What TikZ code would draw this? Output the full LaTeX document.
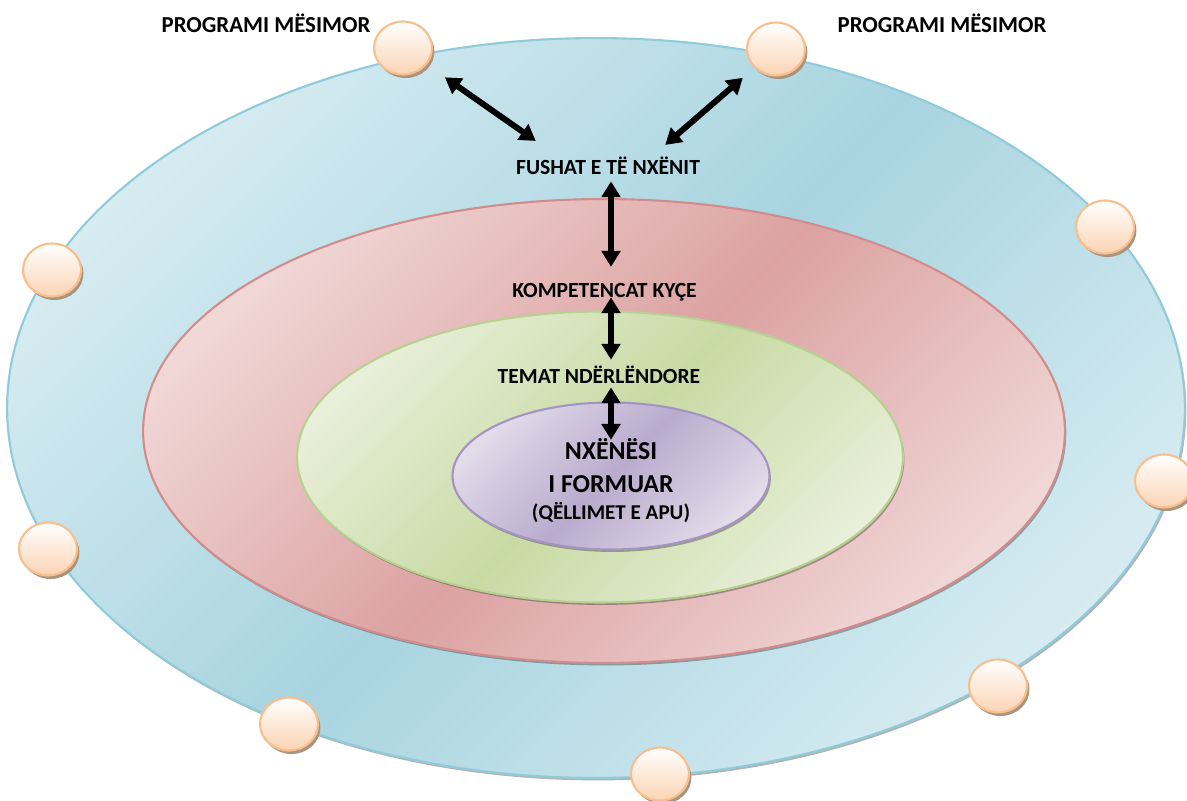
\documentclass[tikz,border=0pt]{standalone}
\usepackage{fontspec}
\setmainfont{Carlito}
\usepackage{xcolor}
\usetikzlibrary{shapes.geometric, arrows.meta, positioning, calc, shadows}

\definecolor{blueLight}{HTML}{DBEEF3}
\definecolor{blueDark}{HTML}{A8D4E0}
\definecolor{blueLine}{HTML}{8FCBDA}
\definecolor{redLight}{HTML}{F2DCDB}
\definecolor{redDark}{HTML}{DCA2A2}
\definecolor{redLine}{HTML}{D18C8C}
\definecolor{greenLight}{HTML}{EBF1DE}
\definecolor{greenDark}{HTML}{C8DAA4}
\definecolor{greenLine}{HTML}{B6D190}
\definecolor{purpleLight}{HTML}{E6E0EC}
\definecolor{purpleDark}{HTML}{BAABCD}
\definecolor{purpleLine}{HTML}{A594C3}
\definecolor{beadFill}{HTML}{FBD4B4}
\definecolor{beadLine}{HTML}{F9BE8C}
\definecolor{beadShadow}{HTML}{A8957F}

\pgfdeclarehorizontalshading{bluering}{100bp}{color(0bp)=(blueLight); color(22bp)=(blueLight); color(50bp)=(blueDark); color(78bp)=(blueLight); color(100bp)=(blueLight)}
\pgfdeclarehorizontalshading{redring}{100bp}{color(0bp)=(redLight); color(22bp)=(redLight); color(50bp)=(redDark); color(78bp)=(redLight); color(100bp)=(redLight)}
\pgfdeclarehorizontalshading{greenring}{100bp}{color(0bp)=(greenLight); color(22bp)=(greenLight); color(50bp)=(greenDark); color(78bp)=(greenLight); color(100bp)=(greenLight)}
\pgfdeclarehorizontalshading{purplering}{100bp}{color(0bp)=(purpleLight); color(22bp)=(purpleLight); color(50bp)=(purpleDark); color(78bp)=(purpleLight); color(100bp)=(purpleLight)}

\begin{document}
\begin{tikzpicture}[
    x=0.02cm, y=-0.02cm,
    ring/.style={ellipse, inner sep=0pt, line width=1.2pt, shading angle=-45,
        drop shadow={shadow xshift=0.8pt, shadow yshift=-1.4pt, fill=black, opacity=0.3}},
    bead/.style={ellipse, draw=beadLine, line width=1.2pt, minimum width=1.16cm, minimum height=1.06cm,
        inner sep=0pt, top color=white, bottom color=beadFill,
        drop shadow={shadow xshift=1.4pt, shadow yshift=-2pt, fill=beadShadow, opacity=1}},
    tag/.style={font=\bfseries\fontsize{12.3}{14}\selectfont, inner sep=0pt, text height=7.8pt, text depth=0pt, anchor=base},
    biarrow/.style={{Triangle[length=9pt,width=10.5pt]}-{Triangle[length=9pt,width=10.5pt]}, line width=3.4pt},
    every node/.append style={text=black}
]
    \useasboundingbox (0,0) rectangle (1187,801);

    % Rings
    \node[ring, draw=blueLine, shading=bluering, minimum width=23.56cm, minimum height=14.8cm] (field) at (596,408) {};
    \node[ring, draw=redLine, shading=redring, minimum width=18.44cm, minimum height=9.28cm] (compet) at (604,431) {};
    \node[ring, draw=greenLine, shading=greenring, minimum width=12.12cm, minimum height=5.82cm] (cross) at (600,457) {};
    \node[ring, draw=purpleLine, shading=purplering, minimum width=6.34cm, minimum height=2.94cm] (core) at (611,476) {};

    % Beads round the outer ring
    \node[bead] (b1) at (403,48) {};
    \node[bead] (b2) at (776,49) {};
    \node[bead] (b3) at (1105,227) {};
    \node[bead] (b4) at (52,270) {};
    \node[bead] (b5) at (1164,481) {};
    \node[bead] (b6) at (48,549) {};
    \node[bead] (b7) at (998,686) {};
    \node[bead] (b8) at (289,724) {};
    \node[bead] (b9) at (660,774) {};

    % Labels
    \node[tag, font=\bfseries\fontsize{13}{15}\selectfont] (prog1) at (266,32) {PROGRAMI MËSIMOR};
    \node[tag, font=\bfseries\fontsize{13}{15}\selectfont] (prog2) at (942,32) {PROGRAMI MËSIMOR};
    \node[tag] (fushat) at (608,174) {FUSHAT E TË NXËNIT};
    \node[tag] (kompet) at (604.5,297) {KOMPETENCAT KYÇE};
    \node[tag] (temat) at (599,383) {TEMAT NDËRLËNDORE};
    \node[font=\bfseries\fontsize{14.7}{18.7}\selectfont, align=center, inner sep=0pt, anchor=north] (nxenesi) at (611,438)
        {NXËNËSI\\I FORMUAR\\[-3.4pt]{\fontsize{12}{13}\selectfont (QËLLIMET E APU)}};

    % Arrows
    \draw[biarrow, shorten <=12.5pt] (b1) -- ($(fushat.north west)+(20,-19)$);
    \draw[biarrow, shorten <=8.5pt] (b2) -- ($(fushat.north east)+(-35,-15)$);
    \draw[biarrow, shorten <=4pt, shorten >=9.2pt] (nxenesi.north |- fushat.south) -- (nxenesi.north |- kompet.north);
    \draw[biarrow, shorten >=5.3pt] (nxenesi.north |- kompet.south) -- (nxenesi.north |- temat.north);
    \draw[biarrow, shorten <=2.3pt, shorten >=-1pt] (nxenesi.north |- temat.south) -- (nxenesi.north);
\end{tikzpicture}
\end{document}
